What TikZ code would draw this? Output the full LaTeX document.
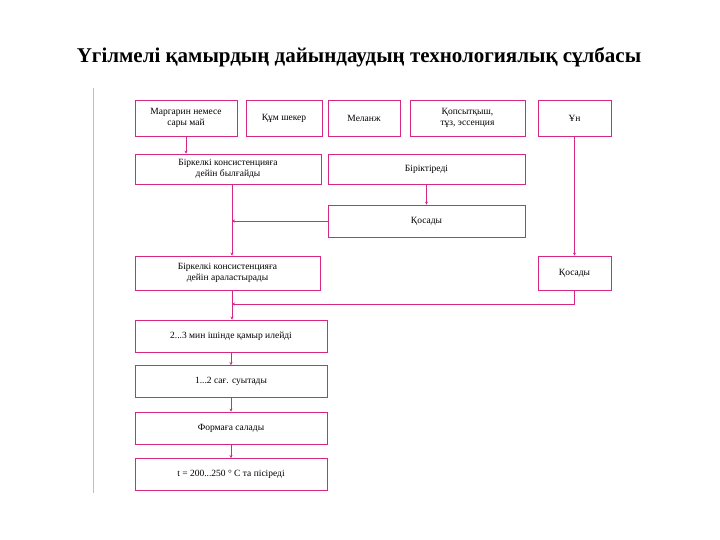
\documentclass[tikz,border=0pt]{standalone}
\usepackage{fontspec}
\setmainfont{Liberation Serif}
\usetikzlibrary{arrows.meta}
\definecolor{flowpink}{RGB}{214,40,130}

\begin{document}
\begin{tikzpicture}[x=1pt,y=-1pt,
  box/.style={draw=flowpink, thick, fill=white, inner sep=0pt, align=center, font=\fontsize{9.5}{10.5}\selectfont},
  link/.style={flowpink, thick, -{Stealth[length=3pt,width=3pt]}}]
\useasboundingbox (0,0) rectangle (720,540);

% Title and the left rule
\node (title) at (359,57) {\fontsize{21}{24}\selectfont\bfseries Үгілмелі қамырдың дайындаудың технологиялық сұлбасы};
\draw [lightgray, thick] (93,88) -- (93,493);

% Top row of ingredients
\node [box, minimum width=102, minimum height=36] (marg) at (186,118) {Маргарин немесе\\сары май};
\node [box, minimum width=76, minimum height=36] (sugar) at (284,118) {Құм шекер};
\node [box, minimum width=72, minimum height=36] (melanzh) at (364,118) {Меланж};
\node [box, minimum width=115, minimum height=36] (qops) at (467.5,118) {Қопсытқыш,\\тұз, эссенция};
\node [box, minimum width=73, minimum height=36] (flour) at (574.5,118) {Ұн};

% Middle blocks
\node [box, minimum width=186, minimum height=30] (beat) at (228,169) {Біркелкі консистенцияға\\дейін былғайды};
\node [box, minimum width=197, minimum height=30] (join) at (426.5,169) {Біріктіреді};
\node [box, minimum width=197, minimum height=32] (addA) at (426.5,221) {Қосады};
\node [box, minimum width=185, minimum height=34] (mix) at (227.5,273) {Біркелкі консистенцияға\\дейін араластырады};
\node [box, minimum width=73, minimum height=34] (addB) at (574.5,273) {Қосады};

% Process chain
\foreach \n/\y/\t in {knead/336/{2...3 мин ішінде қамыр илейді},
                      cool/381.5/{1...2 сағ. суытады},
                      shape/428/{Формаға салады},
                      bake/474.5/{t = 200...250 ° С та пісіреді}} {
  \node [box, minimum width=192, minimum height=32] (\n) at (231,\y) {\t};
}

% Connectors
\coordinate (jA) at (232,221);
\coordinate (jB) at (232,304);
\draw [link] (marg.south -| 186,0) -- (beat.north -| 186,0);
\draw [link] (beat.south -| jA) -- (mix.north -| jA);
\draw [link] (addA.west) -- (jA);
\draw [link] (join) -- (addA);
\draw [link] (flour) -- (addB);
\draw [link] (addB.south) |- (jB);
\draw [link] (mix.south -| jB) -- (knead.north -| jB);
\draw [link] (knead) -- (cool);
\draw [link] (cool) -- (shape);
\draw [link] (shape) -- (bake);
\end{tikzpicture}
\end{document}
